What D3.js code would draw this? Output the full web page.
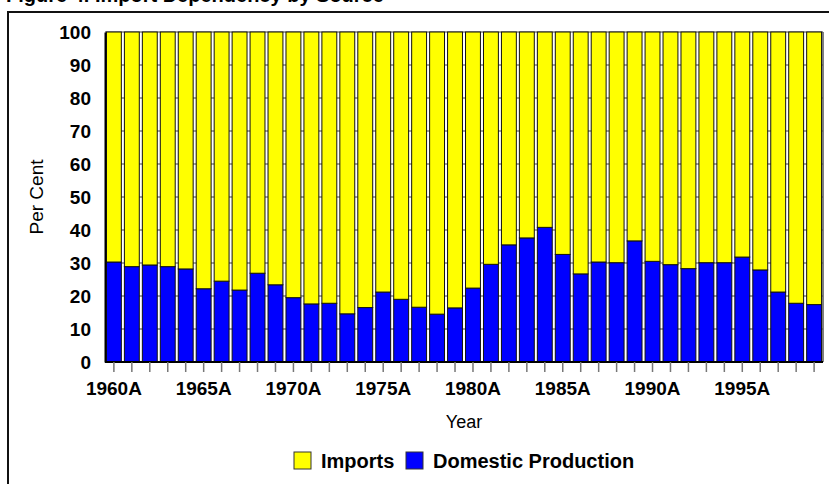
<!DOCTYPE html>
<html>
<head>
<meta charset="utf-8">
<script src="https://cdn.jsdelivr.net/npm/d3@7"></script>
<style>
  body { margin: 0; background: #fff; }
  svg { display: block; font-family: Arial, "Liberation Sans", sans-serif; }
</style>
</head>
<body>
<div id="chart"></div>
<script>
// data
const years = [1960, 1961, 1962, 1963, 1964, 1965, 1966, 1967, 1968, 1969,
               1970, 1971, 1972, 1973, 1974, 1975, 1976, 1977, 1978, 1979,
               1980, 1981, 1982, 1983, 1984, 1985, 1986, 1987, 1988, 1989,
               1990, 1991, 1992, 1993, 1994, 1995, 1996, 1997, 1998, 1999];
const domestic = [30.3, 28.9, 29.4, 28.9, 28.2, 22.2, 24.5, 21.8, 26.9, 23.4,
                  19.5, 17.6, 17.8, 14.6, 16.5, 21.2, 19.0, 16.6, 14.5, 16.4,
                  22.4, 29.6, 35.5, 37.6, 40.8, 32.6, 26.7, 30.3, 30.1, 36.7,
                  30.5, 29.5, 28.3, 30.1, 30.1, 31.8, 27.9, 21.2, 17.8, 17.4];
const imports = domestic.map(d => +(100 - d).toFixed(1));
const yTicks = [0, 10, 20, 30, 40, 50, 60, 70, 80, 90, 100];
const xLabels = ["1960A", "1965A", "1970A", "1975A", "1980A", "1985A", "1990A", "1995A"];
const seriesNames = ["Domestic Production", "Imports"];
const colors = { "Domestic Production": "#0000ff", "Imports": "#ffff00" };

const W = 829, H = 484;
const margin = { left: 105, right: 6, top: 32, bottom: 122 };

const svg = d3.select("#chart").append("svg")
    .attr("width", W)
    .attr("height", H);

// outer frame (runs off the right and bottom of the page)
svg.append("rect")
    .attr("x", 8).attr("y", 12)
    .attr("width", W + 20).attr("height", H + 20)
    .attr("fill", "none")
    .attr("stroke", "#111")
    .attr("stroke-width", 2);

// title, mostly cut off at the top like in the source
svg.append("text")
    .attr("x", 6).attr("y", 2)
    .attr("font-size", 20)
    .attr("font-weight", "bold")
    .text("Figure 4. Import Dependency by Source");

const x = d3.scaleBand()
    .domain(years)
    .range([margin.left, W - margin.right])
    .paddingInner(0.17)
    .paddingOuter(0.08);

const y = d3.scaleLinear()
    .domain([0, 100])
    .range([H - margin.bottom, margin.top]);

// grid lines
svg.append("g")
    .selectAll("line")
    .data(yTicks.slice(1))
    .join("line")
    .attr("x1", margin.left).attr("x2", W - margin.right)
    .attr("y1", d => y(d)).attr("y2", d => y(d))
    .attr("stroke", "#444")
    .attr("stroke-width", 1);

// stacked bars
const rows = years.map((yr, i) => ({ year: yr, "Domestic Production": domestic[i], "Imports": imports[i] }));
const stacked = d3.stack().keys(seriesNames)(rows);

svg.append("g")
    .selectAll("g")
    .data(stacked)
    .join("g")
    .attr("fill", d => colors[d.key])
    .selectAll("rect")
    .data(d => d)
    .join("rect")
    .attr("x", d => x(d.data.year))
    .attr("width", x.bandwidth())
    .attr("y", d => y(d[1]))
    .attr("height", d => y(d[0]) - y(d[1]))
    .attr("stroke", "#111")
    .attr("stroke-width", 1);

// right border of plot
svg.append("line")
    .attr("x1", W - margin.right).attr("x2", W - margin.right)
    .attr("y1", margin.top).attr("y2", H - margin.bottom)
    .attr("stroke", "#555").attr("stroke-width", 1.5);

// y axis
const yAxis = svg.append("g")
    .attr("transform", `translate(${margin.left},0)`)
    .call(d3.axisLeft(y).tickValues(yTicks).tickSize(0).tickPadding(14));
yAxis.select(".domain").attr("stroke", "#000").attr("stroke-width", 2);
yAxis.selectAll("text")
    .attr("font-size", 19)
    .attr("font-weight", "bold")
    .attr("fill", "#000")
    .attr("font-family", "Arial, 'Liberation Sans', sans-serif");

// x axis
const xAxis = svg.append("g")
    .attr("transform", `translate(0,${H - margin.bottom})`)
    .call(d3.axisBottom(x)
        .tickSize(10)
        .tickPadding(10)
        .tickFormat(d => { const lab = d + "A"; return xLabels.includes(lab) ? lab : ""; }));
xAxis.select(".domain").attr("stroke", "#000").attr("stroke-width", 2)
    .attr("d", `M${margin.left},0H${W - margin.right}`);
xAxis.selectAll(".tick line").attr("stroke", "#777").attr("stroke-width", 1.5);
xAxis.selectAll("text")
    .attr("font-size", 19)
    .attr("font-weight", "bold")
    .attr("fill", "#000")
    .attr("font-family", "Arial, 'Liberation Sans', sans-serif");

// axis titles
svg.append("text")
    .attr("transform", `translate(43,${(margin.top + H - margin.bottom) / 2}) rotate(-90)`)
    .attr("text-anchor", "middle")
    .attr("font-size", 19)
    .text("Per Cent");

svg.append("text")
    .attr("x", (margin.left + W - margin.right) / 2)
    .attr("y", 428)
    .attr("text-anchor", "middle")
    .attr("font-size", 18)
    .text("Year");

// legend
const legendItems = [
    { name: "Imports", x: 294 },
    { name: "Domestic Production", x: 406 }
];
const legend = svg.append("g");
legend.selectAll("rect")
    .data(legendItems)
    .join("rect")
    .attr("x", d => d.x).attr("y", 452)
    .attr("width", 17).attr("height", 17)
    .attr("fill", d => colors[d.name])
    .attr("stroke", "#333").attr("stroke-width", 1);
legend.selectAll("text")
    .data(legendItems)
    .join("text")
    .attr("x", d => d.x + 27).attr("y", 468)
    .attr("font-size", 20)
    .attr("font-weight", "bold")
    .text(d => d.name);
</script>
</body>
</html>
